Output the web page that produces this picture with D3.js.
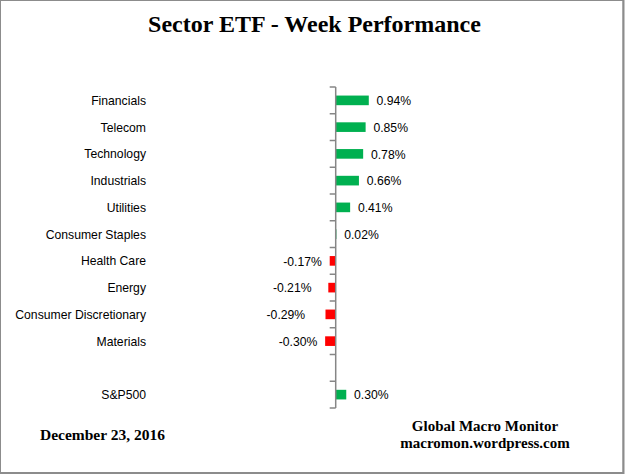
<!DOCTYPE html>
<html>
<head>
<meta charset="utf-8">
<script src="https://cdn.jsdelivr.net/npm/d3@7"></script>
<style>
  html, body { margin: 0; padding: 0; background: #fff; }
  svg { display: block; }
</style>
</head>
<body>
<svg id="chart" width="625" height="475"></svg>
<script>
const categories = ["Financials", "Telecom", "Technology", "Industrials", "Utilities",
  "Consumer Staples", "Health Care", "Energy", "Consumer Discretionary", "Materials", "", "S&P500"];
const values = [0.94, 0.85, 0.78, 0.66, 0.41, 0.02, -0.17, -0.21, -0.29, -0.30, null, 0.30];
const titleText = "Sector ETF - Week Performance";
const dateText = "December 23, 2016";
const sourceLines = ["Global Macro Monitor", "macromon.wordpress.com"];

// layout: extra leftward nudge of some data labels (as placed in the original)
const labelGap = 7.8;
const labelNudge = { "Energy": 9, "Consumer Discretionary": 12.5 };

const svg = d3.select("#chart");
const W = 625, H = 475;

// frame
svg.append("rect").attr("x", 0.5).attr("y", 0.5).attr("width", W - 2.5).attr("height", H - 2.5)
  .attr("fill", "#fff").attr("stroke", "#8c8c8c").attr("stroke-width", 1);
svg.append("line").attr("x1", W - 1.5).attr("x2", W - 1.5).attr("y1", 0).attr("y2", H - 1).attr("stroke", "#8c8c8c").attr("stroke-width", 2);
svg.append("line").attr("x1", 0).attr("x2", W - 1).attr("y1", H - 2).attr("y2", H - 2).attr("stroke", "#8c8c8c").attr("stroke-width", 2);

const data = categories.map((c, i) => ({ key: c === "" ? "__gap" + i : c, label: c, value: values[i] }));

const y = d3.scaleBand().domain(data.map(d => d.key)).range([87, 408])
  .paddingInner(0.64).paddingOuter(0.32);
const step = y.step();
const x = d3.scaleLinear().domain([-1, 1]).range([335.7 - 35.2, 335.7 + 35.2]);

// title
svg.append("text").attr("x", 314.5).attr("y", 32).attr("text-anchor", "middle")
  .attr("font-family", "'Liberation Serif', 'Times New Roman', serif").attr("font-weight", "bold")
  .attr("font-size", 24).attr("fill", "#000").text(titleText);

// bars
svg.append("g").selectAll("rect").data(data.filter(d => d.value !== null)).join("rect")
  .attr("x", d => x(Math.min(0, d.value)))
  .attr("width", d => Math.abs(x(d.value) - x(0)))
  .attr("y", d => y(d.key))
  .attr("height", y.bandwidth())
  .attr("fill", d => d.value >= 0 ? "#00b050" : "#ff0000");

// axis
const x0 = x(0);
const ag = svg.append("g").attr("stroke", "#868686").attr("stroke-width", 1.5);
ag.append("line").attr("x1", x0).attr("x2", x0).attr("y1", y.range()[0]).attr("y2", y.range()[1]);
const tickYs = data.map(d => y(d.key) - (step - y.bandwidth()) / 2).concat([y.range()[1]]);
ag.selectAll("line.tick").data(tickYs).join("line").attr("class", "tick")
  .attr("x1", x0 - 6).attr("x2", x0).attr("y1", d => d).attr("y2", d => d);

const sans = "'Liberation Sans', Arial, sans-serif";
// category labels
svg.append("g").selectAll("text").data(data.filter(d => d.label !== "")).join("text")
  .attr("x", 146).attr("y", d => y(d.key) + y.bandwidth() / 2 + 4.5)
  .attr("text-anchor", "end").attr("font-family", sans).attr("font-size", 12.2)
  .attr("fill", "#000").text(d => d.label);

// value labels
svg.append("g").selectAll("text").data(data.filter(d => d.value !== null)).join("text")
  .attr("x", d => d.value >= 0 ? x(d.value) + labelGap : x(d.value) - labelGap - (labelNudge[d.label] || 0))
  .attr("y", d => y(d.key) + y.bandwidth() / 2 + 4.8)
  .attr("text-anchor", d => d.value >= 0 ? "start" : "end")
  .attr("font-family", sans).attr("font-size", 12.2).attr("fill", "#000")
  .text(d => d.value.toFixed(2) + "%");

// footer
const serif = "'Liberation Serif', 'Times New Roman', serif";
svg.append("text").attr("x", 40).attr("y", 440).attr("font-family", serif).attr("font-weight", "bold")
  .attr("font-size", 15.5).attr("fill", "#000").text(dateText);
svg.append("g").selectAll("text").data(sourceLines).join("text")
  .attr("x", 485).attr("y", (d, i) => 431 + i * 16.5).attr("text-anchor", "middle")
  .attr("font-family", serif).attr("font-weight", "bold").attr("font-size", 15).attr("fill", "#000")
  .text(d => d);
</script>
</body>
</html>
